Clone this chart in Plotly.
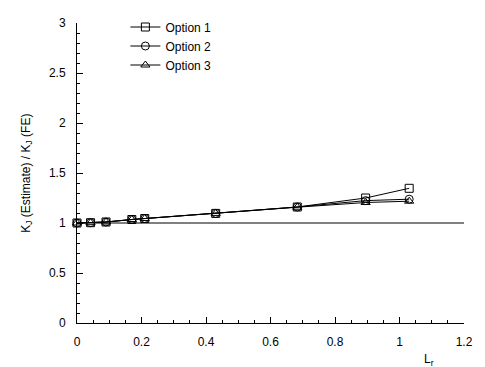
import plotly.graph_objects as go

lr = [0.0, 0.042, 0.09, 0.17, 0.21, 0.43, 0.683, 0.895, 1.03]
option1 = [1.0, 1.003, 1.01, 1.035, 1.045, 1.096, 1.16, 1.25, 1.347]
option2 = [1.0, 1.003, 1.01, 1.035, 1.045, 1.096, 1.16, 1.224, 1.238]
option3 = [1.0, 1.003, 1.01, 1.035, 1.045, 1.096, 1.158, 1.205, 1.218]
ref_x = [0.0, 1.2]
ref_y = [1.0, 1.0]

series = [("Option 1", option1, "square-open"),
          ("Option 2", option2, "circle-open"),
          ("Option 3", option3, "triangle-up-open")]

fig = go.Figure()
fig.add_trace(go.Scatter(x=ref_x, y=ref_y, mode="lines", showlegend=False,
                         line=dict(color="black", width=1)))
for name, ys, sym in series:
    fig.add_trace(go.Scatter(x=lr, y=ys, mode="lines+markers", name=name,
                             line=dict(color="black", width=1),
                             marker=dict(symbol=sym, size=8, color="black",
                                         line=dict(color="black", width=1)),
                             cliponaxis=False))

font = dict(family="Liberation Sans, Arial, sans-serif", size=12, color="black")
fig.update_layout(
    width=485, height=367,
    margin=dict(l=77, r=18, t=13, b=44),
    paper_bgcolor="white", plot_bgcolor="white",
    font=font,
    showlegend=True,
    legend=dict(x=0.125, y=1.035, xanchor="left", yanchor="top",
                bgcolor="rgba(0,0,0,0)", font=font,
                tracegroupgap=0, itemwidth=30),
    xaxis=dict(range=[0, 1.2], dtick=0.2, tick0=0, ticks="inside", ticklen=6,
               tickcolor="black", showline=True, linecolor="black", linewidth=1,
               showgrid=False, zeroline=False, ticklabelstandoff=8,
               minor=dict(dtick=0.05, ticks="inside", ticklen=3, tickcolor="black")),
    yaxis=dict(range=[0, 3], dtick=0.5, tick0=0, ticks="inside", ticklen=6,
               tickcolor="black", showline=True, linecolor="black", linewidth=1,
               showgrid=False, zeroline=False, ticklabelstandoff=8,
               minor=dict(dtick=0.1, ticks="inside", ticklen=3, tickcolor="black")),
)
fig.add_annotation(text="K<sub>J</sub> (Estimate) / K<sub>J</sub> (FE)",
                   xref="paper", yref="paper", x=-0.13, y=0.5,
                   textangle=-90, showarrow=False, font=font,
                   xanchor="center", yanchor="middle")
fig.add_annotation(text="L<sub>r</sub>", xref="x", yref="paper", x=1.09, y=-0.09,
                   showarrow=False, font=font, xanchor="center", yanchor="top")

fig.write_html("out.html")
